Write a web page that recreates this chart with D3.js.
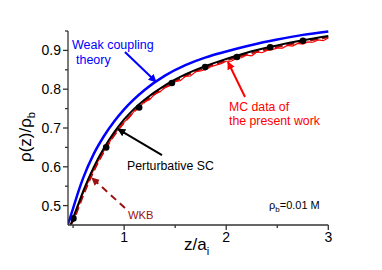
<!DOCTYPE html>
<html>
<head>
<meta charset="utf-8">
<script src="https://cdn.jsdelivr.net/npm/d3@7"></script>
<style>
  body { margin: 0; background: #fff; font-family: Arial, "Liberation Sans", sans-serif; }
  svg { display: block; }
</style>
</head>
<body>
<div id="container"><svg></svg></div>
<script>
let width = 382, height = 270;
let lmargin = 68, rmargin = 328.3, umargin = 31, dmargin = 225;

// 弱耦合理论 (blue)
let weak_z = [0.45, 0.5, 0.55, 0.6, 0.7, 0.8, 0.9, 1.0, 1.2, 1.4, 1.6, 1.8, 2.0, 2.25, 2.5, 2.75, 3.0];
let weak_v = [0.452, 0.493, 0.535, 0.572, 0.632, 0.678, 0.716, 0.748, 0.798, 0.835, 0.862, 0.882, 0.897, 0.914, 0.928, 0.940, 0.949];

// Perturbative SC (black)
let sc_z = [0.48, 0.5, 0.55, 0.6, 0.7, 0.8, 0.9, 1.0, 1.1, 1.2, 1.4, 1.6, 1.8, 2.0, 2.25, 2.5, 2.75, 3.0];
let sc_v = [0.452, 0.468, 0.503, 0.538, 0.598, 0.647, 0.688, 0.722, 0.750, 0.773, 0.810, 0.838, 0.860, 0.878, 0.898, 0.913, 0.926, 0.937];

// black dots
let dot_z = [0.503, 0.824, 1.147, 1.468, 1.794, 2.105, 2.431, 2.752];
let dot_v = [0.467, 0.650, 0.753, 0.816, 0.857, 0.883, 0.908, 0.925];

// WKB (dashed dark red)
let wkb_z = [0.47, 0.5, 0.55, 0.6, 0.7, 0.8, 0.9, 1.0, 1.2, 1.4, 1.6, 1.8, 2.0, 2.25, 2.5, 2.75, 3.0];
let wkb_v = [0.450, 0.460, 0.493, 0.527, 0.588, 0.638, 0.680, 0.714, 0.767, 0.805, 0.834, 0.856, 0.874, 0.893, 0.909, 0.922, 0.934];

// MC data (red, noisy)
let mc_z = [0.50, 0.55, 0.60, 0.65, 0.70, 0.75, 0.80, 0.85, 0.90, 0.95, 1.00, 1.05, 1.10, 1.15, 1.20, 1.25, 1.30, 1.35, 1.40, 1.45,
            1.50, 1.55, 1.60, 1.65, 1.70, 1.75, 1.80, 1.85, 1.90, 1.95, 2.00, 2.05, 2.10, 2.15, 2.20, 2.25, 2.30, 2.35, 2.40, 2.45,
            2.50, 2.55, 2.60, 2.65, 2.70, 2.75, 2.80, 2.85, 2.90, 2.95, 3.00];
let mc_v = [0.462, 0.498, 0.533, 0.562, 0.592, 0.617, 0.641, 0.660, 0.684, 0.699, 0.715, 0.727, 0.744, 0.754, 0.768, 0.773, 0.788, 0.793, 0.804, 0.809,
            0.820, 0.822, 0.833, 0.834, 0.845, 0.847, 0.851, 0.858, 0.862, 0.866, 0.872, 0.872, 0.880, 0.881, 0.888, 0.886, 0.896, 0.894, 0.900, 0.902,
            0.906, 0.906, 0.913, 0.911, 0.918, 0.916, 0.922, 0.921, 0.927, 0.925, 0.932];

let x_ticks = [1, 2, 3], x_minor = [0.5, 1.5, 2.5];
let y_ticks = [0.5, 0.6, 0.7, 0.8, 0.9], y_minor = [0.55, 0.65, 0.75, 0.85, 0.95];

// arrows: [z0, v0, z1, v1]
let arrow_weak = [1.008, 0.896, 1.312, 0.819];
let arrow_sc = [1.371, 0.630, 0.940, 0.697];
let arrow_mc = [2.184, 0.780, 2.017, 0.870];
let arrow_wkb = [1.008, 0.494, 0.685, 0.571];

let svg = d3.select('#container').select('svg').attr('width', width).attr('height', height);

let x = d3.scaleLinear().domain([0.45, 3]).range([lmargin, rmargin]);
let y = d3.scaleLinear().domain([0.45, 0.95]).range([dmargin, umargin]);

svg.append('defs').append('clipPath').attr('id', 'clip')
    .append('rect').attr('x', lmargin).attr('y', umargin - 5)
    .attr('width', rmargin - lmargin + 2).attr('height', dmargin - umargin + 5);

function zipper(zs, vs) { return zs.map((z, i) => [z, vs[i]]); }

let smooth = d3.line().x(d => x(d[0])).y(d => y(d[1])).curve(d3.curveMonotoneX);
let rough = d3.line().x(d => x(d[0])).y(d => y(d[1]));

let plot = svg.append('g').attr('clip-path', 'url(#clip)');

plot.append('path').datum(zipper(wkb_z, wkb_v))
    .attr('d', smooth).attr('fill', 'none')
    .attr('stroke', '#9b1010').attr('stroke-width', 2).attr('stroke-dasharray', '8,4');

plot.append('path').datum(zipper(mc_z, mc_v))
    .attr('d', rough).attr('fill', 'none')
    .attr('stroke', '#ff0000').attr('stroke-width', 1.2);

plot.append('path').datum(zipper(sc_z, sc_v))
    .attr('d', smooth).attr('fill', 'none')
    .attr('stroke', '#000').attr('stroke-width', 2);

plot.append('g').selectAll('circle')
    .data(zipper(dot_z, dot_v))
    .join('circle')
    .attr('cx', d => x(d[0])).attr('cy', d => y(d[1]))
    .attr('r', 3.3).attr('fill', '#000');

plot.append('path').datum(zipper(weak_z, weak_v))
    .attr('d', smooth).attr('fill', 'none')
    .attr('stroke', '#0000ff').attr('stroke-width', 2.5);

// axes
let ax = svg.append('g').attr('stroke', '#333').attr('stroke-width', 1.3);
ax.append('line').attr('x1', lmargin).attr('x2', lmargin).attr('y1', umargin).attr('y2', dmargin);
ax.append('line').attr('x1', lmargin).attr('x2', rmargin).attr('y1', dmargin).attr('y2', dmargin);
ax.selectAll('.yt').data(y_ticks).join('line')
    .attr('x1', lmargin - 5).attr('x2', lmargin).attr('y1', d => y(d)).attr('y2', d => y(d));
ax.selectAll('.ym').data(y_minor).join('line')
    .attr('x1', lmargin - 3).attr('x2', lmargin).attr('y1', d => y(d)).attr('y2', d => y(d));
ax.selectAll('.xt').data(x_ticks).join('line')
    .attr('y1', dmargin).attr('y2', dmargin + 5).attr('x1', d => x(d)).attr('x2', d => x(d));
ax.selectAll('.xm').data(x_minor).join('line')
    .attr('y1', dmargin).attr('y2', dmargin + 3).attr('x1', d => x(d)).attr('x2', d => x(d));

svg.append('g').selectAll('text').data(y_ticks).join('text')
    .attr('x', lmargin - 7).attr('y', d => y(d) + 5)
    .attr('text-anchor', 'end').attr('font-size', 14).text(d => d.toFixed(1));
svg.append('g').selectAll('text').data(x_ticks).join('text')
    .attr('x', d => x(d)).attr('y', dmargin + 17)
    .attr('text-anchor', 'middle').attr('font-size', 14).text(d => d);

// axis titles
let yl = svg.append('text').attr('transform', 'translate(31,137) rotate(-90)')
    .attr('text-anchor', 'middle').attr('font-size', 17);
yl.append('tspan').text('ρ(z)/ρ');
yl.append('tspan').attr('font-size', 11).attr('dy', 4).text('b');

let xl = svg.append('text').attr('x', 184).attr('y', 250).attr('font-size', 17);
xl.append('tspan').text('z/a');
xl.append('tspan').attr('font-size', 11).attr('dy', 5).text('i');

// annotations
let defs = svg.select('defs');
function marker(id, color) {
    defs.append('marker').attr('id', id).attr('viewBox', '0 0 10 10')
        .attr('refX', 9).attr('refY', 5).attr('markerWidth', 4).attr('markerHeight', 4)
        .attr('markerUnits', 'strokeWidth').attr('orient', 'auto')
        .append('path').attr('d', 'M0,0 L10,5 L0,10 z').attr('fill', color);
}
marker('ah_blue', '#0000ff');
marker('ah_black', '#000');
marker('ah_red', '#ff0000');
marker('ah_wkb', '#9b1010');

function arrow(a, color, id, dash) {
    svg.append('line')
        .attr('x1', x(a[0])).attr('y1', y(a[1])).attr('x2', x(a[2])).attr('y2', y(a[3]))
        .attr('stroke', color).attr('stroke-width', 2)
        .attr('stroke-dasharray', dash ? '7,5' : null)
        .attr('marker-end', 'url(#' + id + ')');
}
arrow(arrow_weak, '#0000ff', 'ah_blue');
arrow(arrow_sc, '#000', 'ah_black');
arrow(arrow_mc, '#ff0000', 'ah_red');
arrow(arrow_wkb, '#9b1010', 'ah_wkb', true);

function label(z, v, s, color, size) {
    return svg.append('text').attr('x', x(z)).attr('y', y(v))
        .attr('fill', color).attr('font-size', size).text(s);
}
label(0.489, 0.904, 'Weak coupling', '#0000ff', 12.5);
label(0.528, 0.865, 'theory', '#0000ff', 12.5);
label(2.027, 0.744, 'MC data of', '#ff0000', 12.3);
label(2.027, 0.708, 'the present work', '#ff0000', 12.3);
label(1.028, 0.592, 'Perturbative SC', '#000', 12.3);
label(1.038, 0.465, 'WKB', '#9b1010', 11.2);
let rb = label(2.419, 0.491, 'ρ', '#000', 11);
rb.append('tspan').attr('font-size', 8).attr('dy', 3).text('b');
rb.append('tspan').attr('dy', -3).text('=0.01 M');
</script>
</body>
</html>
